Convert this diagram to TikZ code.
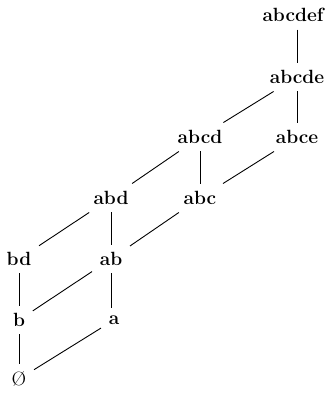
\documentclass[tikz,border=0pt]{standalone}
\begin{document}
\begin{tikzpicture}[x=0.0235cm,y=-0.0235cm,font=\fontsize{12.8}{15}\selectfont\bfseries,
        every node/.style={inner sep=5pt},every edge/.style={draw,line width=0.6pt}]
        \useasboundingbox (0,0) rectangle (325,394);
        \node (abcdef) at (293,15) {abcdef};
        \node (abcde) at (297,77) {abcde};
        \node (abcd) at (200,137) {abcd};
        \node (abce) at (297,137) {abce};
        \node (abd) at (111,198) {abd};
        \node (abc) at (200,198) {abc};
        \node (bd) at (19,259) {bd};
        \node (ab) at (111,259) {ab};
        \node (b) at (19,320) {b};
        \node (a) at (114,320) {a};
        \node[font=\fontsize{12.8}{15}\selectfont\mdseries] (e) at (19,379) {\O};
        \path (abcdef.south -| abcde) edge (abcde);
        \path (abcde) edge (abcd);
        \path (abcde) edge (abce);
        \path (abcd) edge (abd);
        \path (abcd) edge (abc);
        \path (abce) edge (abc);
        \path (abd) edge (bd);
        \path (abd) edge (ab);
        \path (abc) edge (ab);
        \path (bd) edge (b);
        \path (ab) edge (b);
        \path (ab) edge (a.north -| ab);
        \path (b) edge (e);
        \path (a) edge (e);
        
        \end{tikzpicture}
\end{document}
